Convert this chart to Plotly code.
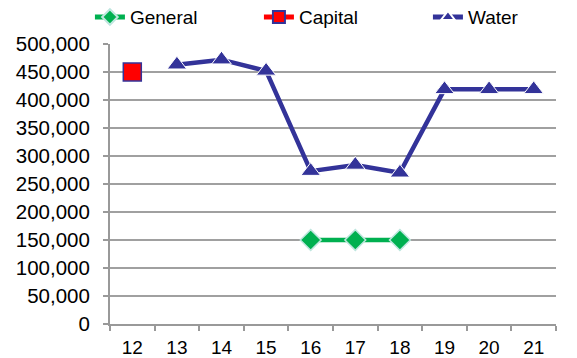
import plotly.graph_objects as go

categories = ["12", "13", "14", "15", "16", "17", "18", "19", "20", "21"]
general = [None, None, None, None, 150000, 150000, 150000, None, None, None]
capital = [450000, None, None, None, None, None, None, None, None, None]
water = [None, 463000, 472000, 452000, 273000, 284000, 270000, 419000, 419000, 419000]

fig = go.Figure()
fig.add_trace(go.Scatter(
    x=categories, y=general, name="General", mode="lines+markers",
    line=dict(color="#00B050", width=4.5),
    marker=dict(symbol="diamond", size=16, color="#00B050",
                line=dict(color="#BFE6DF", width=1.5)),
))
fig.add_trace(go.Scatter(
    x=categories, y=capital, name="Capital", mode="lines+markers",
    line=dict(color="#FF0000", width=4.5),
    marker=dict(symbol="square", size=18, color="#FF0000",
                line=dict(color="#333399", width=1.5)),
))
fig.add_trace(go.Scatter(
    x=categories, y=water, name="Water", mode="lines+markers",
    line=dict(color="#333399", width=4.5),
    marker=dict(symbol="triangle-up", size=17, color="#333399",
                line=dict(color="#FFFFFF", width=1)),
))

fig.update_layout(
    width=577, height=358,
    margin=dict(l=110, r=21, t=44, b=34, autoexpand=False),
    paper_bgcolor="white", plot_bgcolor="white",
    font=dict(family="Liberation Sans, Arial", size=19, color="#000000"),
    showlegend=True,
    legend=dict(orientation="h", x=-0.045, xanchor="left", y=1.028, yanchor="bottom",
                entrywidth=124, entrywidthmode="pixels",
                font=dict(size=19), bgcolor="rgba(0,0,0,0)",
                itemsizing="constant", tracegroupgap=0),
)
fig.update_xaxes(
    type="category", range=[-0.5, 9.5],
    showgrid=False, showline=True, linecolor="#999999", linewidth=2,
    ticks="outside", tickson="boundaries", ticklen=5, tickcolor="#999999", tickwidth=2,
    ticklabelstandoff=5, zeroline=False,
)
fig.update_yaxes(
    range=[0, 500000], dtick=50000, tickformat=",d",
    tickfont=dict(size=20.5),
    showgrid=True, gridcolor="#A0A0A0", gridwidth=1.5,
    showline=True, linecolor="#999999", linewidth=2,
    ticks="outside", ticklen=5, tickcolor="#999999", tickwidth=2,
    ticklabelstandoff=9, zeroline=False,
)

fig.write_html("out.html")
